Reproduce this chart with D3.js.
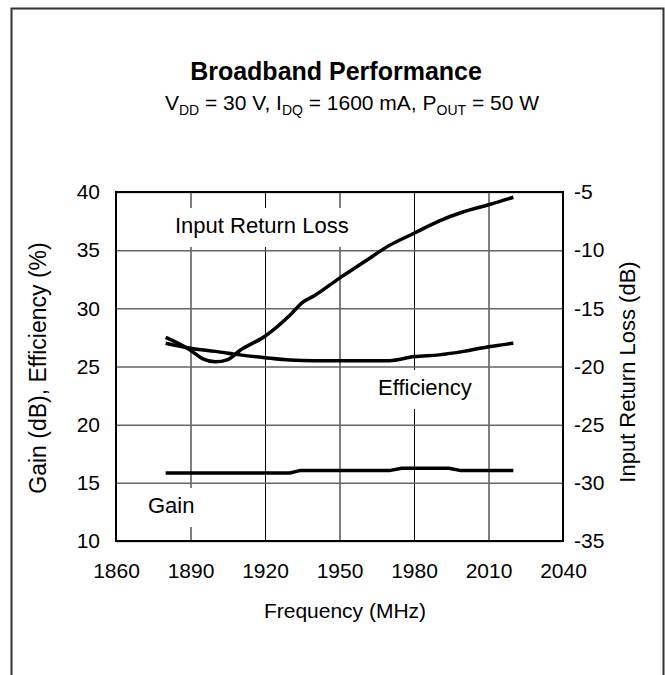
<!DOCTYPE html>
<html>
<head>
<meta charset="utf-8">
<title>Broadband Performance</title>
<script src="https://cdn.jsdelivr.net/npm/d3@7"></script>
<style>
body { margin: 0; background: #fff; }
svg text { font-family: Arial, "Liberation Sans", sans-serif; fill: #000; }
</style>
</head>
<body>
<div id="chart"></div>
<script>
// frequency ticks (MHz)
var freqTicks = [1860, 1890, 1920, 1950, 1980, 2010, 2040];
var leftTicks = [10, 15, 20, 25, 30, 35, 40];
var rightTicks = [-35, -30, -25, -20, -15, -10, -5];

// gain (dB)
var gainFreq = [1880, 1930, 1934, 1970, 1975, 1994, 1999, 2020];
var gain     = [15.85, 15.85, 16.05, 16.05, 16.25, 16.25, 16.05, 16.05];

// drain efficiency (%)
var effFreq = [1880, 1890, 1900, 1910, 1920, 1930, 1940, 1950, 1960, 1970, 1980, 1990, 2000, 2010, 2020];
var eff     = [27.0, 26.57, 26.3, 26.0, 25.76, 25.56, 25.5, 25.5, 25.5, 25.5, 25.85, 26.0, 26.3, 26.7, 27.0];

// input return loss (dB)
var irlFreq = [1880, 1890, 1895, 1900, 1905, 1910, 1920, 1930, 1935, 1940, 1950, 1960, 1970, 1980, 1990, 2000, 2010, 2020];
var irl     = [-17.5, -18.6, -19.35, -19.6, -19.4, -18.6, -17.4, -15.6, -14.5, -13.9, -12.4, -11.0, -9.6, -8.55, -7.5, -6.7, -6.1, -5.45];

var svgWidth = 665, svgHeight = 675;
var margin = {top: 192, left: 116, right: 102, bottom: 134};
var width = svgWidth - margin.left - margin.right,
    height = svgHeight - margin.top - margin.bottom;

var svg = d3.select("#chart").append("svg")
    .attr("width", svgWidth)
    .attr("height", svgHeight);

// outer frame (open at the bottom)
svg.append("path")
    .attr("d", "M11.5," + svgHeight + "V8.5H663.5V" + svgHeight)
    .attr("fill", "none")
    .attr("stroke", "#333")
    .attr("stroke-width", 2);

// title
svg.append("text")
    .attr("x", 336).attr("y", 80)
    .attr("text-anchor", "middle")
    .attr("font-size", "25px")
    .attr("font-weight", "bold")
    .text("Broadband Performance");

var sub = svg.append("text")
    .attr("x", 352).attr("y", 110)
    .attr("text-anchor", "middle")
    .attr("font-size", "21px");
var subParts = [["V", 0], ["DD", 1], [" = 30 V, I", 0], ["DQ", 1], [" = 1600 mA, P", 0], ["OUT", 1], [" = 50 W", 0]];
subParts.forEach(function(p, i) {
    var prev = i > 0 ? subParts[i - 1][1] : 0;
    sub.append("tspan")
        .attr("font-size", p[1] ? "14px" : "21px")
        .attr("dy", p[1] && !prev ? 5 : (!p[1] && prev ? -5 : 0))
        .text(p[0]);
});

var g = svg.append("g")
    .attr("transform", "translate(" + margin.left + "," + margin.top + ")");

var x = d3.scaleLinear().domain([1860, 2040]).range([0, width]);
var yL = d3.scaleLinear().domain([10, 40]).range([height, 0]);
var yR = d3.scaleLinear().domain([-35, -5]).range([height, 0]);

// grid
g.append("g")
    .attr("class", "grid-x")
    .attr("transform", "translate(0," + height + ")")
    .call(d3.axisBottom(x).tickValues(freqTicks).tickSize(-height).tickFormat(""))
    .call(function(s) {
        s.select(".domain").remove();
        s.selectAll("line").attr("stroke", "#000").attr("stroke-width", 1);
    });

g.append("g")
    .attr("class", "grid-y")
    .call(d3.axisLeft(yL).tickValues(leftTicks).tickSize(-width).tickFormat(""))
    .call(function(s) {
        s.select(".domain").remove();
        s.selectAll("line").attr("stroke", "#666").attr("stroke-width", 1.5);
    });

// curve labels with white boxes over the grid
var labels = [
    {text: "Input Return Loss", x: 175, y: 233},
    {text: "Efficiency", x: 378, y: 395},
    {text: "Gain", x: 148, y: 513}
];
labels.forEach(function(l) {
    var lg = svg.append("g");
    var box = lg.append("rect").attr("fill", "#fff");
    var t = lg.append("text")
        .attr("x", l.x).attr("y", l.y)
        .attr("font-size", "22px")
        .text(l.text);
    var w = t.node().getComputedTextLength();
    box.attr("x", l.x - 3).attr("y", l.y - 25)
        .attr("width", w + 6).attr("height", 39);
});

// plot border
g.append("rect")
    .attr("width", width).attr("height", height)
    .attr("fill", "none")
    .attr("stroke", "#000")
    .attr("stroke-width", 2);

// axes
var tickFont = "21px";
g.append("g")
    .attr("transform", "translate(0," + height + ")")
    .call(d3.axisBottom(x).tickValues(freqTicks).tickSize(0).tickPadding(22).tickFormat(d3.format("d")))
    .call(function(s) {
        s.select(".domain").remove();
        s.selectAll("text").attr("font-size", tickFont).attr("font-family", null);
    });

g.append("g")
    .call(d3.axisLeft(yL).tickValues(leftTicks).tickSize(0).tickPadding(16))
    .call(function(s) {
        s.select(".domain").remove();
        s.selectAll("text").attr("font-size", tickFont).attr("font-family", null);
    });

g.append("g")
    .attr("transform", "translate(" + width + ",0)")
    .call(d3.axisRight(yR).tickValues(rightTicks).tickSize(0).tickPadding(11)
        .tickFormat(function(d) { return String(d); }))
    .call(function(s) {
        s.select(".domain").remove();
        s.selectAll("text").attr("font-size", tickFont).attr("font-family", null);
    });

// axis titles
svg.append("text")
    .attr("x", 345).attr("y", 618)
    .attr("text-anchor", "middle")
    .attr("font-size", "21px")
    .text("Frequency (MHz)");

svg.append("text")
    .attr("transform", "translate(46,368) rotate(-90)")
    .attr("text-anchor", "middle")
    .attr("font-size", "23px")
    .text("Gain (dB), Efficiency (%)");

svg.append("text")
    .attr("transform", "translate(635,372) rotate(-90)")
    .attr("text-anchor", "middle")
    .attr("font-size", "22px")
    .text("Input Return Loss (dB)");

// series
function drawLine(fs, vs, y, curve) {
    var line = d3.line()
        .x(function(d) { return x(d[0]); })
        .y(function(d) { return y(d[1]); })
        .curve(curve);
    g.append("path")
        .datum(d3.zip(fs, vs))
        .attr("d", line)
        .attr("fill", "none")
        .attr("stroke", "#000")
        .attr("stroke-width", 3.5)
        .attr("stroke-linejoin", "round");
}
drawLine(gainFreq, gain, yL, d3.curveLinear);
drawLine(effFreq, eff, yL, d3.curveMonotoneX);
drawLine(irlFreq, irl, yR, d3.curveMonotoneX);
</script>
</body>
</html>
